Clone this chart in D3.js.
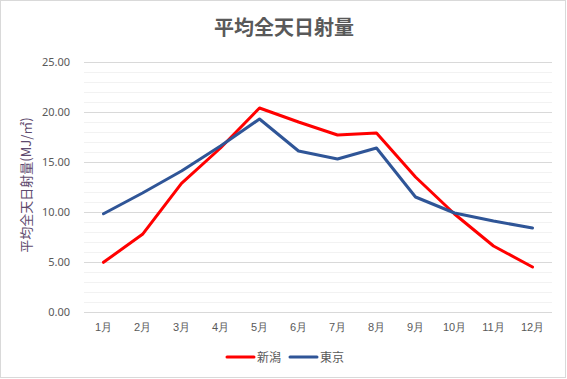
<!DOCTYPE html>
<html>
<head>
<meta charset="utf-8">
<script src="https://cdn.jsdelivr.net/npm/d3@7"></script>
<style>
  body { margin: 0; background: #fff; }
  svg { display: block; font-family: "Noto Sans CJK JP", "Noto Sans", sans-serif; }
</style>
</head>
<body>
<div id="chart"></div>
<script>
var months = ['1月','2月','3月','4月','5月','6月','7月','8月','9月','10月','11月','12月'];
var niigata = [4.97, 7.77, 12.87, 16.4, 20.4, 19.0, 17.7, 17.9, 13.5, 9.8, 6.6, 4.5];
var tokyo = [9.83, 11.9, 14.1, 16.6, 19.3, 16.1, 15.3, 16.4, 11.5, 9.9, 9.1, 8.4];
var seriesNames = ['新潟', '東京'];
var seriesColors = ['#ff0000', '#2f5597'];
var yTicks = [0, 5, 10, 15, 20, 25];

var W = 567, H = 379;
var margin = {top: 62, right: 15, bottom: 67, left: 84};

var svg = d3.select('#chart').append('svg')
    .attr('width', W)
    .attr('height', H);

// outer border
svg.append('rect')
    .attr('x', 0.5).attr('y', 0.5)
    .attr('width', W - 2).attr('height', H - 2)
    .attr('fill', '#fff')
    .attr('stroke', '#d9d9d9');

svg.append('text')
    .attr('x', W / 2 + 0.5)
    .attr('y', 35)
    .attr('text-anchor', 'middle')
    .style('font-size', '20px')
    .style('font-weight', 'bold')
    .attr('fill', '#595959')
    .text('平均全天日射量');

var width = W - margin.left - margin.right,
    height = H - margin.top - margin.bottom;

var x = d3.scaleBand().domain(months).range([0, width]);
var y = d3.scaleLinear().domain([0, 25]).range([height, 0]);

var graph = svg.append('g')
    .attr('transform', 'translate(' + margin.left + ',' + margin.top + ')');

// minor grid
graph.append('g').selectAll('line')
    .data(d3.range(0, 26).filter(d => d % 5 !== 0))
    .enter().append('line')
    .attr('x1', 0).attr('x2', width)
    .attr('y1', d => Math.round(y(d)) + 0.5)
    .attr('y2', d => Math.round(y(d)) + 0.5)
    .attr('stroke', '#f2f2f2');

// major grid
graph.append('g').selectAll('line')
    .data(yTicks)
    .enter().append('line')
    .attr('x1', 0).attr('x2', width)
    .attr('y1', d => Math.round(y(d)) + 0.5)
    .attr('y2', d => Math.round(y(d)) + 0.5)
    .attr('stroke', '#d9d9d9');

var yAxis = graph.append('g')
    .call(d3.axisLeft(y).tickValues(yTicks).tickSize(0).tickPadding(14).tickFormat(d3.format('.2f')));
yAxis.select('.domain').remove();
yAxis.selectAll('text')
    .style('font-size', '11px')
    .style('font-family', '"Noto Sans", sans-serif')
    .attr('fill', '#595959');

var xAxis = graph.append('g')
    .attr('transform', 'translate(0,' + height + ')')
    .call(d3.axisBottom(x).tickSize(0).tickPadding(11));
xAxis.select('.domain').remove();
xAxis.selectAll('text')
    .style('font-size', '11px')
    .attr('fill', '#595959');

svg.append('text')
    .attr('transform', 'translate(31,' + (margin.top + height / 2 - 2) + ') rotate(-90)')
    .attr('text-anchor', 'middle')
    .style('font-size', '13px')
    .attr('fill', '#5e4a6e')
    .text('平均全天日射量(MJ/㎡)');

var line = d3.line()
    .x((d, i) => x(months[i]) + x.bandwidth() / 2)
    .y(d => y(d));

[niigata, tokyo].forEach(function(s, i) {
    graph.append('path')
        .datum(s)
        .attr('fill', 'none')
        .attr('stroke', seriesColors[i])
        .attr('stroke-width', 3)
        .attr('stroke-linejoin', 'round')
        .attr('stroke-linecap', 'round')
        .attr('d', line);
});

// legend
var legend = svg.append('g')
    .attr('transform', 'translate(227,357)');
seriesNames.forEach(function(name, i) {
    var g = legend.append('g').attr('transform', 'translate(' + (i * 63) + ',0)');
    g.append('line')
        .attr('x1', 0).attr('x2', 27)
        .attr('stroke', seriesColors[i])
        .attr('stroke-width', 3)
        .attr('stroke-linecap', 'round');
    g.append('text')
        .attr('x', 30)
        .attr('y', 4.5)
        .style('font-size', '12px')
        .attr('fill', '#595959')
        .text(name);
});
</script>
</body>
</html>
